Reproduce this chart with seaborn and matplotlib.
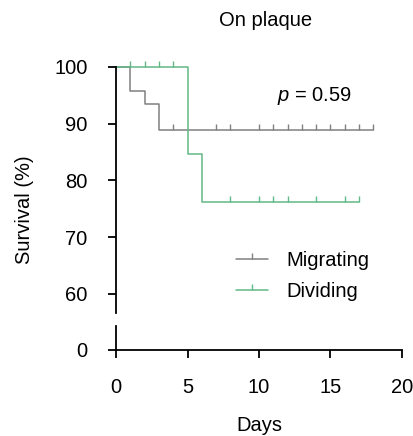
import matplotlib
matplotlib.use("Agg")
import matplotlib.pyplot as plt
import seaborn as sns
import pandas as pd

# ---- data ----
mig_days = [0, 1, 2, 3, 4, 7, 8, 10, 11, 12, 13, 14, 15, 16, 17, 18]
mig_surv = [100, 95.8, 93.5, 88.8, 88.8, 88.8, 88.8, 88.8, 88.8, 88.8, 88.8, 88.8, 88.8, 88.8, 88.8, 88.8]
mig_censor_idx = [4, 5, 6, 7, 8, 9, 10, 11, 12, 13, 14, 15]

div_days = [0, 1, 2, 3, 4, 5, 6, 8, 10, 11, 12, 14, 16, 17]
div_surv = [100, 100, 100, 100, 100, 84.6, 76.1, 76.1, 76.1, 76.1, 76.1, 76.1, 76.1, 76.1]
div_censor_idx = [1, 2, 3, 4, 7, 8, 9, 10, 11, 12, 13]

series_names = ["Migrating", "Dividing"]
series_colors = ["#808080", "#62b886"]
y_ticks_upper = [60, 70, 80, 90, 100]
x_ticks = [0, 5, 10, 15, 20]
p_text = "0.59"

sns.set_theme(style="ticks")
plt.rcParams["font.family"] = ["Liberation Sans", "DejaVu Sans"]
plt.rcParams["mathtext.fontset"] = "custom"
plt.rcParams["mathtext.it"] = "Liberation Sans:italic"
plt.rcParams["mathtext.rm"] = "Liberation Sans"
plt.rcParams["text.color"] = "black"
plt.rcParams["axes.labelcolor"] = "black"

FS = 14.5
fig = plt.figure(figsize=(4.14, 4.36), dpi=100)
left, width = 116 / 414, 286 / 414
ax = fig.add_axes([left, 1 - 313 / 436, width, (313 - 66.7) / 436])
axb = fig.add_axes([left, 1 - 349.5 / 436, width, (349.5 - 326) / 436])

df_m = pd.DataFrame({"Days": mig_days, "Survival": mig_surv})
df_d = pd.DataFrame({"Days": div_days, "Survival": div_surv})

for df, name, col, idx in [(df_m, series_names[0], series_colors[0], mig_censor_idx),
                           (df_d, series_names[1], series_colors[1], div_censor_idx)]:
    sns.lineplot(data=df, x="Days", y="Survival", ax=ax, estimator=None, sort=False,
                 drawstyle="steps-post", color=col, lw=1.1, label=name,
                 marker=2, markevery=idx, markersize=4.0, markeredgewidth=1.0,
                 markeredgecolor=col, markerfacecolor=col,
                 clip_on=False)

ax.set_xlim(0, 20)
ax.set_ylim(56.65, 100)
ax.set_yticks(y_ticks_upper)
ax.set_xticks([])
ax.set_xlabel("")
ax.set_ylabel("")
for s in ["top", "right", "bottom"]:
    ax.spines[s].set_visible(False)
ax.spines["left"].set_linewidth(1.3)
ax.spines["left"].set_color("black")
ax.tick_params(axis="y", length=5.5, width=1.3, pad=15, labelsize=FS,
               colors="black", labelcolor="black")

axb.set_xlim(0, 20)
axb.set_ylim(0, 1)
axb.set_yticks([0])
axb.set_xticks(x_ticks)
for s in ["top", "right"]:
    axb.spines[s].set_visible(False)
for s in ["left", "bottom"]:
    axb.spines[s].set_linewidth(1.3)
    axb.spines[s].set_color("black")
axb.tick_params(axis="both", length=5.5, width=1.3, pad=15, labelsize=FS,
                colors="black", labelcolor="black")
axb.patch.set_alpha(0)

ax.text(11.25, 94.9, r"$p$ = " + p_text, fontsize=FS, ha="left", va="center", color="black")

leg = ax.legend(loc="center left", bbox_to_anchor=(0.42, 0.149), frameon=False,
                fontsize=FS, handlelength=1.6, handletextpad=0.9, labelspacing=0.6,
                borderpad=0, borderaxespad=0, numpoints=1)
for t in leg.get_texts():
    t.set_color("black")

fig.text(266 / 414, 1 - 26 / 436, "On plaque", fontsize=FS, ha="center", va="baseline", color="black")
fig.text(259 / 414, 1 - 425 / 436, "Days", fontsize=FS, ha="center", va="center", color="black")
fig.text(25 / 414, 1 - 210 / 436, "Survival (%)", fontsize=FS, ha="center", va="center",
         rotation=90, color="black")

fig.savefig("out.png", dpi=100)
